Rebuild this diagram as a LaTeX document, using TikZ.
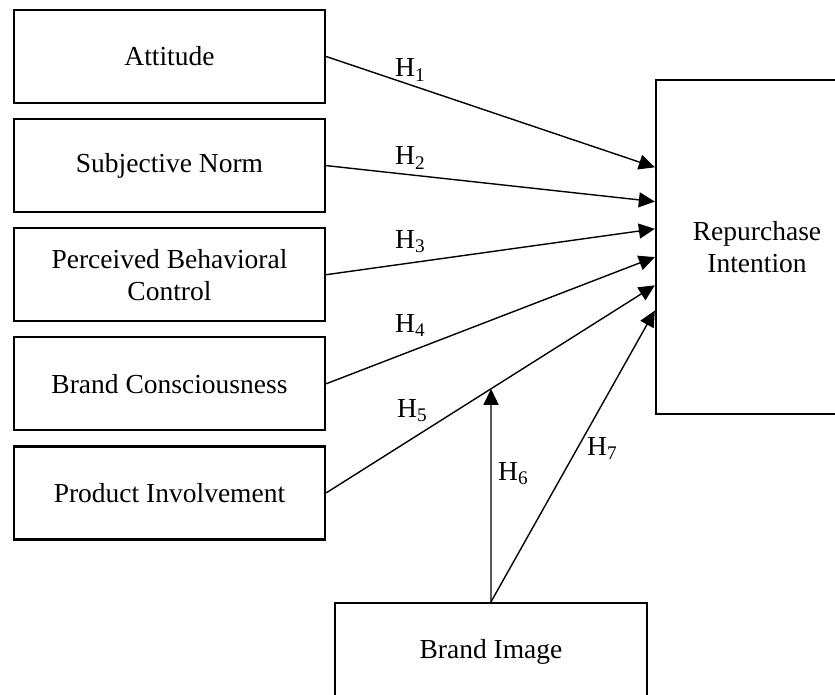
\documentclass[tikz,border=0pt]{standalone}
\usepackage{fontspec}
\setmainfont{Liberation Serif}
\usetikzlibrary{positioning,arrows.meta,calc}

\begin{document}
\begin{tikzpicture}[
  x=1pt, y=-1pt,
  font=\fontsize{27.5}{32}\selectfont,
  node distance=13.8pt,
  box/.style={draw, line width=2.3pt, align=center, inner sep=0pt, minimum width=311pt, minimum height=93pt},
  arr/.style={-{Triangle[length=16pt,width=15pt]}, line width=1.4pt},
  hyp/.style={anchor=base west, inner sep=0pt}
]
\clip (0,0) rectangle (835,695);
\node[box] (att) at (169.5,56.5) {Attitude};
\node[box, below=of att] (sn) {Subjective Norm};
\node[box, below=of sn] (pbc) {Perceived Behavioral\\Control};
\node[box, below=of pbc] (bc) {Brand Consciousness};
\node[box, below=of bc] (pi) {Product Involvement};
\node[box, minimum width=202pt, minimum height=334pt] (ri) at (757,247) {Repurchase\\Intention};
\node[box, minimum width=312pt, minimum height=98pt] (bi) at (491,652) {Brand Image};

\coordinate (in1) at ($(ri.north west)!.263!(ri.south west)$);
\coordinate (in2) at ($(ri.north west)!.365!(ri.south west)$);
\coordinate (in3) at ($(ri.north west)!.446!(ri.south west)$);
\coordinate (in4) at ($(ri.north west)!.530!(ri.south west)$);
\coordinate (in5) at ($(ri.north west)!.614!(ri.south west)$);
\coordinate (in7) at ($(ri.north west)!.689!(ri.south west)$);
\coordinate (mod) at (intersection of pi.east--in5 and bi.north--bi.south);

\draw[arr] (att.east) -- (in1);
\draw[arr] (sn.east) -- (in2);
\draw[arr] (pbc.east) -- (in3);
\draw[arr] (bc.east) -- (in4);
\draw[arr] (pi.east) -- (in5);
\draw[arr] (bi.north) -- (mod);
\draw[arr] (bi.north) -- (in7);

\node[hyp] (h1) at (395,77) {H\textsubscript{1}};
\node[hyp] (h2) at (395,165) {H\textsubscript{2}};
\node[hyp] (h3) at (395,248) {H\textsubscript{3}};
\node[hyp] (h4) at (395,332) {H\textsubscript{4}};
\node[hyp] (h5) at (397,417) {H\textsubscript{5}};
\node[hyp] (h6) at (498,480) {H\textsubscript{6}};
\node[hyp] (h7) at (587,455) {H\textsubscript{7}};
\end{tikzpicture}
\end{document}
